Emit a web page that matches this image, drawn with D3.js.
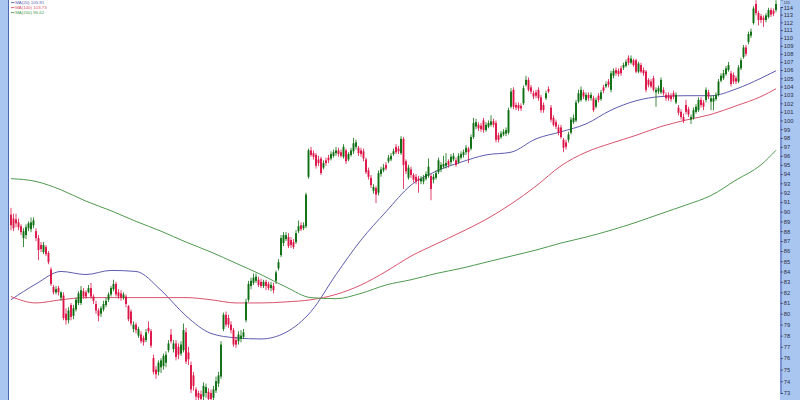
<!DOCTYPE html>
<html>
<head>
<meta charset="utf-8">
<script src="https://cdn.jsdelivr.net/npm/d3@7"></script>
<style>
  html, body { margin: 0; padding: 0; background: #ffffff; }
  svg { display: block; }
</style>
</head>
<body>
<svg id="chart" width="800" height="400"></svg>
<script>
// Daily candles: [open, high, low, close]
const candles = [
  [89.7,90.4,88.1,88.6],[89.3,89.8,88.0,88.3],[89.2,89.8,88.4,88.8],[88.9,89.3,88.1,88.4],[88.5,88.7,87.6,87.9],
  [87.3,88.3,86.4,88.0],[87.6,88.7,87.2,88.4],[88.3,89.0,88.0,88.8],[88.2,89.4,87.9,88.9],[88.6,89.4,88.3,89.1],
  [88.0,88.3,87.0,87.3],[87.3,87.6,85.1,86.1],[86.6,86.9,85.9,86.2],[85.9,86.9,85.7,86.6],[86.4,86.6,85.5,85.7],
  [85.8,86.0,84.7,84.9],[84.2,84.4,82.6,82.8],[82.5,82.7,81.8,82.0],[82.0,82.6,81.8,82.3],[82.4,82.6,81.7,82.0],
  [81.5,82.1,81.2,82.0],[81.7,82.0,79.4,79.6],[80.0,80.5,79.0,79.4],[79.4,80.6,79.1,80.3],[80.8,81.0,79.4,79.7],
  [79.8,80.8,79.5,80.5],[80.4,81.5,80.2,81.3],[81.0,82.1,80.8,81.9],[81.0,82.6,80.8,82.2],[82.1,82.4,81.4,81.6],
  [82.0,82.2,81.4,81.6],[82.0,82.7,81.9,82.4],[82.4,82.9,81.4,81.6],[81.6,81.8,80.9,81.2],[80.9,81.2,80.0,80.3],
  [80.3,80.5,79.3,79.8],[80.0,80.7,79.7,80.5],[80.4,81.2,80.2,80.9],[80.8,81.5,80.6,81.2],[81.3,82.0,81.1,81.8],
  [81.8,82.6,81.6,82.4],[82.3,83.2,82.1,82.8],[82.8,83.0,81.6,81.8],[82.0,82.3,81.4,81.6],[81.9,82.2,81.2,81.5],
  [81.5,82.0,81.3,81.8],[81.6,81.8,80.6,80.9],[80.7,80.8,79.3,79.5],[80.2,80.4,78.9,79.1],[78.6,79.3,78.3,79.0],
  [79.0,79.2,78.2,78.5],[78.0,78.8,77.8,78.6],[78.1,78.4,77.3,77.5],[77.8,78.0,77.1,77.4],[77.6,78.6,77.4,78.3],
  [78.7,79.3,78.2,78.4],[78.4,78.6,76.9,77.1],[76.0,76.3,74.6,74.8],[75.0,75.3,74.2,74.6],[74.8,75.8,74.5,75.6],
  [75.2,76.0,74.7,75.8],[75.3,76.4,75.0,76.2],[75.6,76.6,75.2,76.3],[76.7,77.6,76.5,77.3],[78.1,78.6,77.3,77.5],
  [76.8,77.6,76.5,77.3],[77.3,77.6,75.8,76.1],[77.0,77.3,75.9,76.3],[76.4,77.5,76.2,77.2],[76.7,79.1,76.5,78.5],
  [78.3,78.7,75.5,75.7],[76.5,77.0,75.4,75.9],[75.4,75.7,73.0,73.3],[74.5,74.8,73.2,73.6],[73.3,73.5,72.4,72.7],
  [73.0,73.2,72.3,72.6],[72.9,73.2,72.2,72.5],[72.7,73.9,72.4,73.6],[73.0,73.8,72.6,73.5],[73.1,73.4,72.2,72.5],
  [73.0,73.3,72.3,72.5],[72.6,73.6,72.4,73.3],[73.2,74.4,73.0,74.0],[73.8,74.8,73.5,74.5],[74.4,77.5,74.2,77.2],
  [78.6,80.1,78.4,79.9],[79.9,80.2,78.8,79.0],[79.6,79.9,78.7,79.0],[79.0,79.3,78.2,78.5],[78.5,78.7,77.0,77.2],
  [77.6,77.9,76.9,77.2],[77.5,78.4,77.2,78.1],[77.7,78.5,77.4,78.0],[77.9,78.6,77.7,78.3],[79.4,81.4,79.2,81.1],
  [81.3,83.1,81.1,82.8],[82.6,83.4,82.3,83.1],[82.9,83.8,82.7,83.4],[83.1,83.8,82.9,83.5],[83.2,83.5,82.5,82.7],
  [83.0,83.3,82.4,82.6],[82.6,83.2,82.4,83.0],[83.0,83.2,82.2,82.6],[82.8,83.0,82.2,82.4],[82.4,83.0,82.1,82.7],
  [82.6,82.9,81.9,82.2],[83.1,84.1,82.8,83.9],[84.3,85.2,84.1,84.9],[85.6,87.6,85.4,87.3],[86.8,87.9,86.5,87.6],
  [87.2,87.9,87.0,87.6],[87.4,87.8,86.3,86.5],[87.1,87.4,86.3,86.6],[86.9,87.2,86.2,86.4],[86.9,88.1,86.7,87.8],
  [88.0,89.1,87.8,88.5],[88.6,88.9,88.0,88.2],[88.3,88.9,88.1,88.6],[88.5,92.0,88.3,91.8],[93.7,96.8,93.5,96.6],
  [96.6,97.0,95.9,96.1],[96.3,96.6,95.6,95.9],[96.1,96.3,94.6,94.9],[95.6,96.0,94.9,95.2],[95.7,95.9,93.9,94.1],
  [94.7,95.5,94.5,95.2],[95.5,95.8,94.9,95.2],[95.8,96.1,95.2,95.5],[95.7,96.5,95.5,96.2],[96.0,96.7,95.8,96.4],
  [96.3,97.0,96.0,96.6],[96.6,96.9,95.9,96.2],[96.4,96.7,95.8,96.0],[95.9,97.3,95.7,97.0],[96.6,96.8,95.1,95.4],
  [95.6,96.4,95.4,96.2],[96.1,96.9,95.9,96.6],[96.5,98.0,96.2,97.4],[97.0,97.8,96.7,97.5],[96.9,97.1,96.0,96.3],
  [96.6,96.9,95.9,96.2],[96.5,96.8,95.4,95.7],[95.6,95.8,94.0,94.2],[94.4,94.7,93.4,93.7],[93.6,93.9,92.5,92.8],
  [92.2,92.9,91.9,92.6],[92.5,92.7,90.9,91.8],[92.0,94.4,91.7,94.1],[94.0,94.8,93.7,94.5],[94.4,95.1,94.2,94.7],
  [95.0,95.3,94.4,94.6],[95.4,96.1,95.2,95.8],[95.6,96.3,95.4,96.0],[96.2,96.8,96.0,96.5],[97.0,97.3,96.2,96.4],
  [96.8,97.1,96.2,96.5],[96.3,98.2,96.1,97.9],[97.9,98.1,92.4,95.0],[95.4,95.6,94.0,94.3],[93.6,95.0,93.4,94.7],
  [94.5,94.8,93.6,93.9],[93.9,94.1,93.1,93.4],[93.7,94.0,92.9,93.2],[93.5,93.8,92.0,93.3],[93.2,93.8,92.9,93.5],
  [93.2,93.9,92.9,93.6],[93.5,94.3,93.3,94.0],[93.8,95.7,93.6,94.8],[93.8,94.0,91.2,92.4],[93.4,94.0,93.0,93.7],
  [93.6,94.4,93.4,94.1],[94.2,95.8,94.0,95.5],[94.5,95.3,94.2,95.0],[94.8,96.0,94.6,95.1],[94.9,96.3,94.6,95.2],
  [95.4,95.6,94.7,95.0],[95.3,96.2,95.0,95.9],[95.6,96.3,95.4,96.0],[95.5,95.8,94.8,95.0],[95.3,96.3,95.1,96.0],
  [95.8,96.5,95.6,96.2],[96.1,96.7,95.8,96.4],[96.4,97.2,96.1,96.9],[96.8,97.0,95.2,96.4],[96.8,98.4,96.6,98.1],
  [98.1,100.3,97.9,99.7],[99.3,100.2,99.0,99.8],[99.5,99.8,98.8,99.1],[99.4,99.7,98.7,99.0],[100.0,100.3,98.6,98.9],
  [98.9,99.8,98.7,99.5],[99.3,100.0,99.1,99.7],[99.5,100.6,99.3,99.9],[99.9,100.2,99.2,99.5],[99.7,100.0,97.5,97.8],
  [98.3,98.6,97.5,97.8],[98.1,98.8,97.9,98.5],[98.4,99.0,98.2,98.7],[98.5,99.2,98.2,98.9],[98.6,101.5,98.4,101.2],
  [101.6,103.8,101.4,103.4],[103.6,103.9,101.3,101.6],[101.8,102.1,101.2,101.5],[101.8,102.1,101.1,101.4],[101.7,102.0,101.1,101.4],
  [102.0,104.1,101.8,103.8],[104.2,105.3,104.0,104.8],[104.8,105.1,103.4,103.6],[103.9,104.2,103.1,103.4],[103.2,103.5,102.5,102.8],
  [103.3,103.6,102.6,102.9],[103.6,103.9,102.3,102.6],[102.7,103.0,100.9,101.2],[101.8,102.1,100.9,101.2],[102.6,103.5,102.4,103.2],
  [103.7,104.0,103.2,103.4],[101.5,101.8,99.8,100.1],[100.3,100.6,99.3,99.5],[99.8,100.1,99.0,99.3],[99.2,99.5,98.3,98.6],
  [99.2,99.5,97.9,98.1],[97.8,98.0,96.4,96.9],[97.5,97.8,96.7,97.0],[97.8,98.7,97.5,98.4],[98.6,100.4,98.4,100.1],
  [99.8,100.7,99.6,100.3],[100.0,102.4,99.8,102.1],[102.2,103.6,102.0,103.2],[102.4,104.0,102.2,103.6],[103.3,103.6,102.5,102.8],
  [102.4,103.3,102.2,103.0],[103.0,103.3,102.3,102.6],[102.6,103.3,102.3,103.0],[102.6,102.9,101.0,101.2],[101.6,102.7,101.4,102.4],
  [102.9,103.2,102.1,102.4],[102.5,103.6,102.3,103.3],[103.9,104.2,103.2,103.5],[104.0,104.6,103.8,104.3],[104.6,104.9,103.9,104.2],
  [103.6,105.9,103.3,105.6],[105.3,106.2,105.0,105.9],[106.0,106.3,105.3,105.6],[105.9,106.2,105.2,105.5],[106.2,106.5,105.3,105.6],
  [106.3,106.9,106.0,106.6],[106.5,107.3,106.3,107.0],[107.5,107.8,106.6,106.9],[106.9,107.8,106.7,107.4],[107.2,107.4,106.4,106.6],
  [107.2,107.4,105.6,105.8],[105.8,107.0,105.6,106.8],[106.6,106.9,105.6,105.8],[106.0,106.3,105.3,105.6],[105.8,106.0,103.3,103.6],
  [104.8,105.0,103.9,104.2],[104.6,104.9,103.8,104.0],[105.0,105.3,103.4,103.6],[103.3,103.9,101.6,103.6],[103.4,104.1,103.1,103.8],
  [103.3,105.1,103.1,104.8],[103.6,103.9,102.9,103.2],[103.0,103.3,102.3,102.6],[103.0,103.3,102.3,102.6],[102.9,103.2,102.2,102.5],
  [103.2,103.5,102.5,102.8],[102.1,103.3,101.9,103.0],[101.5,101.8,100.6,100.9],[101.0,101.3,100.1,100.4],[100.4,100.8,99.7,100.0],
  [101.8,102.4,100.7,101.0],[101.3,101.6,100.4,100.7],[100.1,100.7,99.6,100.4],[100.3,101.5,100.1,101.2],[101.0,101.9,100.8,101.6],
  [101.2,102.7,101.0,102.4],[102.4,102.7,101.5,101.8],[102.1,102.4,101.2,101.6],[102.4,103.9,102.1,103.6],[103.3,103.6,102.5,102.8],
  [102.2,102.9,101.2,102.6],[102.2,102.9,101.2,102.6],[102.5,103.3,102.3,103.0],[103.0,104.9,102.8,104.6],[104.7,105.6,104.5,105.3],
  [105.0,106.0,104.8,105.6],[105.5,106.5,105.3,106.2],[106.0,107.0,105.8,106.6],[105.6,105.9,104.0,104.3],[105.4,105.7,104.3,104.6],
  [105.0,105.3,104.3,104.6],[104.6,106.6,104.4,106.3],[106.2,107.5,106.0,107.2],[107.6,109.1,107.4,108.8],[108.8,109.1,107.7,108.0],
  [109.5,110.8,109.2,110.5],[110.3,111.2,110.0,110.8],[111.9,114.1,111.7,113.8],[114.4,114.9,112.9,113.2],[113.2,113.5,111.6,112.3],
  [112.8,113.1,111.9,112.3],[112.6,112.9,111.4,112.3],[112.3,113.2,112.0,112.9],[112.7,113.9,112.5,113.6],[113.6,113.9,112.7,113.0],
  [113.5,113.8,112.8,113.1],[113.6,114.9,113.3,114.4]
];

// Moving averages, sampled at these candle positions
const maIndex = [0,10,20,30,40,50,60,70,80,90,100,110,120,130,140,150,160,170,180,190,200,210,220,230,240,250,260,270,280,290,300,306];
const ma20  = [81.3,82.8,84.0,83.7,84.1,84.0,82.2,79.8,78.2,77.8,77.7,78.3,80.2,83.7,87.1,90.0,92.8,94.3,95.3,96.1,96.4,97.9,98.7,99.6,101.2,102.3,102.8,102.9,102.9,103.7,105.0,105.9];
const ma100 = [81.6,81.0,81.3,81.5,81.5,81.5,81.5,81.5,81.3,81.0,81.0,81.1,81.3,81.8,82.7,84.0,85.5,86.7,87.9,89.2,90.8,92.7,94.9,96.4,97.4,98.3,99.3,100.05,100.7,101.7,102.8,103.73];
const ma200 = [93.5,93.2,92.3,91.1,90.1,89.0,88.0,86.9,85.9,84.8,83.7,82.5,81.5,81.4,81.9,82.7,83.2,83.8,84.3,84.9,85.5,86.1,86.8,87.4,88.1,88.9,89.8,90.7,91.7,93.35,95.0,96.62];

const priceTicks = [73,74,75,76,77,78,79,80,81,82,83,84,85,86,87,88,89,90,91,92,93,94,95,96,97,98,99,100,101,102,103,104,105,106,107,108,109,110,111,112,113,114,115];
const legendLabels = ["MA(20) 105.91", "MA(100) 103.73", "MA(200) 96.62"];

const W = 800, H = 400;
const plotLeft = 9, plotRight = 780;
const upColor = "#0d6e12", downColor = "#dc1448";
const maColors = ["#5c5cae", "#d9536d", "#4f9a4f"];
const stripFill = "#a9c6f1", stripEdge = "#4a67b3";
const labelFont = "Liberation Sans, Arial, sans-serif";

const svg = d3.select("#chart");

const x = d3.scaleLinear().domain([0, candles.length - 1]).range([11, 776]);
const y = d3.scaleLog().domain([73, 114]).range([393, 7]);

// plot background
svg.append("rect").attr("x", 0).attr("y", 0).attr("width", W).attr("height", H).attr("fill", "#ffffff");

// moving-average lines
const maSeries = [ma20, ma100, ma200];
const maLine = d3.line()
  .x(d => x(d[0]))
  .y(d => y(d[1]))
  .curve(d3.curveMonotoneX);
const plot = svg.append("g");
plot.selectAll("path.ma")
  .data(maSeries)
  .join("path")
  .attr("class", "ma")
  .attr("d", s => maLine(maIndex.map((idx, k) => [idx, s[k]])))
  .attr("fill", "none")
  .attr("stroke", (s, k) => maColors[k])
  .attr("stroke-width", 1);

// candles
const bodyW = 1.9;
const cg = plot.selectAll("g.candle")
  .data(candles)
  .join("g")
  .attr("class", "candle");
cg.append("line")
  .attr("x1", (d, i) => x(i)).attr("x2", (d, i) => x(i))
  .attr("y1", d => y(d[1])).attr("y2", d => y(d[2]))
  .attr("stroke", d => d[3] >= d[0] ? upColor : downColor)
  .attr("stroke-width", 0.8);
cg.append("rect")
  .attr("x", (d, i) => x(i) - bodyW / 2)
  .attr("width", bodyW)
  .attr("y", d => y(Math.max(d[0], d[3])))
  .attr("height", d => Math.max(0.8, Math.abs(y(d[0]) - y(d[3]))))
  .attr("fill", d => d[3] >= d[0] ? upColor : downColor);

// left edge strip
svg.append("rect").attr("x", 0).attr("y", 0).attr("width", plotLeft).attr("height", H).attr("fill", stripFill);
svg.append("line").attr("x1", plotLeft - 0.5).attr("x2", plotLeft - 0.5).attr("y1", 0).attr("y2", H)
  .attr("stroke", stripEdge).attr("stroke-width", 1);

// right price axis strip
svg.append("rect").attr("x", plotRight).attr("y", 0).attr("width", W - plotRight).attr("height", H).attr("fill", stripFill);
const axis = d3.axisRight(y)
  .tickValues(priceTicks)
  .tickFormat(d3.format("d"))
  .tickSize(2.5)
  .tickPadding(0.8);
const ag = svg.append("g")
  .attr("transform", `translate(${plotRight + 0.5},0)`)
  .call(axis);
ag.select(".domain").attr("stroke", stripEdge).attr("stroke-width", 1);
ag.selectAll(".tick line").attr("stroke", "#333a55").attr("stroke-width", 0.7);
ag.selectAll(".tick text")
  .attr("fill", "#2a2f45")
  .attr("font-family", labelFont)
  .attr("font-size", 5.8);
// the label sitting on the top edge: smaller and nudged inside the frame
ag.selectAll(".tick text")
  .filter(d => y(d) < 3)
  .attr("font-size", 3.8)
  .attr("y", d => 2.1 - y(d));
// its neighbour shifts down a touch to leave room
ag.selectAll(".tick text")
  .filter(d => y(d) >= 3 && y(d) < 10)
  .attr("y", 1);

// legend
const lg = svg.append("g").attr("font-family", labelFont).attr("font-size", 4.4);
const rows = lg.selectAll("g").data(legendLabels).join("g")
  .attr("transform", (d, i) => `translate(11,${2.6 + i * 5})`);
rows.append("line").attr("x1", 0).attr("x2", 3.5).attr("y1", 0).attr("y2", 0)
  .attr("stroke", (d, i) => maColors[i]).attr("stroke-width", 0.9);
rows.append("text").attr("x", 4.2).attr("y", 1.5)
  .attr("fill", (d, i) => maColors[i])
  .text(d => d);
</script>
</body>
</html>
